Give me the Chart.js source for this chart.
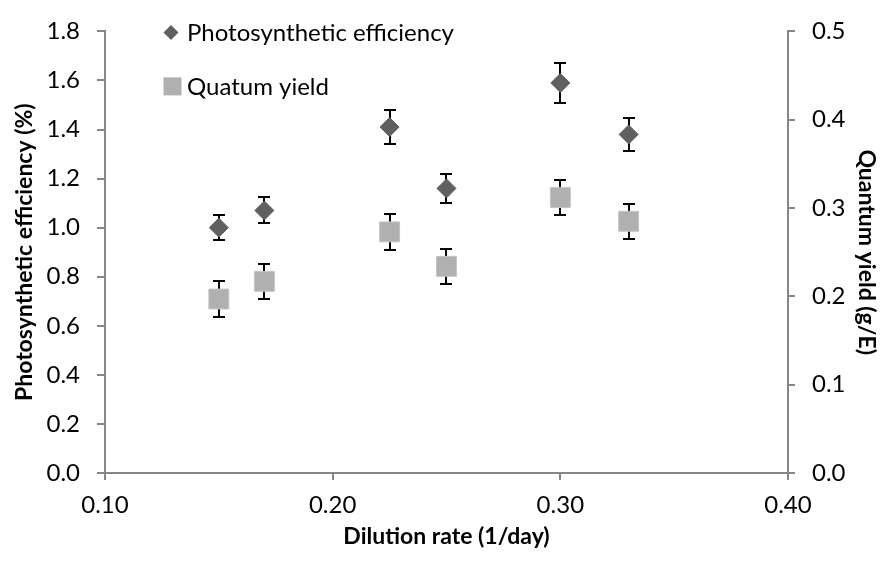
<!DOCTYPE html>
<html><head><meta charset="utf-8">
<script src="https://cdn.jsdelivr.net/npm/chart.js@4.4.1/dist/chart.umd.min.js"></script>
<style>html,body{margin:0;padding:0;background:#fff}#wrap{width:885px;height:562px}</style>
</head><body><div id="wrap"><canvas id="c" width="885" height="562"></canvas></div>
<script>
// ---- data ----
const dilutionRate = [0.15, 0.17, 0.225, 0.25, 0.30, 0.33];
const photoEff = [1.00, 1.07, 1.41, 1.16, 1.59, 1.38];
const photoEffErr = [0.05, 0.053, 0.07, 0.058, 0.08, 0.069];
const quantumYield = [0.197, 0.217, 0.273, 0.234, 0.312, 0.285];
const quantumYieldErr = [0.02, 0.02, 0.02, 0.02, 0.02, 0.02];
const xTicks = [0.10, 0.20, 0.30, 0.40];
const leftTicks = [0, 0.2, 0.4, 0.6, 0.8, 1.0, 1.2, 1.4, 1.6, 1.8];
const rightTicks = [0, 0.1, 0.2, 0.3, 0.4, 0.5];
const seriesNames = ['Photosynthetic efficiency', 'Quatum yield'];
const xTitle = 'Dilution rate (1/day)';
const leftTitle = 'Photosynthetic efficiency (%)';
const rightTitle = 'Quantum yield (g/E)';

const AXIS = '#868686';
const DIAMOND = '#606060';
const SQUARE = '#b0b0b0';
const FS = 24;

function pts(xs, ys) { return xs.map((x, i) => ({x: x, y: ys[i]})); }

const errorBars = {
  id: 'errorBars',
  beforeDatasetsDraw(chart) {
    const ctx = chart.ctx;
    const errs = [photoEffErr, quantumYieldErr];
    chart.data.datasets.forEach((ds, i) => {
      const ys = chart.scales[ds.yAxisID];
      const xs = chart.scales.x;
      ctx.save();
      ctx.strokeStyle = '#000';
      ctx.lineWidth = 2;
      ds.data.forEach((p, j) => {
        const x = Math.round(xs.getPixelForValue(p.x));
        const yt = Math.round(ys.getPixelForValue(p.y + errs[i][j]));
        const yb = Math.round(ys.getPixelForValue(p.y - errs[i][j]));
        ctx.beginPath();
        ctx.moveTo(x, yt); ctx.lineTo(x, yb);
        ctx.moveTo(x - 6, yt); ctx.lineTo(x + 6, yt);
        ctx.moveTo(x - 6, yb); ctx.lineTo(x + 6, yb);
        ctx.stroke();
      });
      ctx.restore();
    });
  }
};

const customLegend = {
  id: 'customLegend',
  afterDraw(chart) {
    const ctx = chart.ctx;
    const a = chart.chartArea;
    ctx.save();
    ctx.font = FS + 'px Lato';
    ctx.textBaseline = 'middle';
    // diamond
    const dx = a.left + 66, dy = a.top + 1;
    ctx.fillStyle = DIAMOND;
    ctx.beginPath();
    ctx.moveTo(dx - 7.5, dy); ctx.lineTo(dx, dy - 7.5); ctx.lineTo(dx + 7.5, dy); ctx.lineTo(dx, dy + 7.5);
    ctx.closePath(); ctx.fill();
    ctx.fillStyle = '#000';
    ctx.fillText(seriesNames[0], a.left + 82, dy + 1);
    // square
    const sx = a.left + 67.5, sy = a.top + 55;
    ctx.fillStyle = SQUARE;
    ctx.fillRect(sx - 9, sy - 9, 18, 18);
    ctx.fillStyle = '#000';
    ctx.fillText(seriesNames[1], a.left + 82, sy + 1);
    ctx.restore();
  }
};

function make() {
  Chart.defaults.font.family = 'Lato';
  Chart.defaults.font.size = FS;
  Chart.defaults.color = '#000';
  new Chart(document.getElementById('c'), {
    type: 'scatter',
    data: {
      datasets: [
        {label: seriesNames[0], data: pts(dilutionRate, photoEff), yAxisID: 'y',
         pointStyle: 'rectRot', pointRadius: 9.5, pointHoverRadius: 9.5,
         backgroundColor: DIAMOND, borderColor: DIAMOND, borderWidth: 1},
        {label: seriesNames[1], data: pts(dilutionRate, quantumYield), yAxisID: 'y2',
         pointStyle: 'rect', pointRadius: 14.1, pointHoverRadius: 14.1,
         backgroundColor: SQUARE, borderColor: '#c4c4c4', borderWidth: 1}
      ]
    },
    options: {
      responsive: false, animation: false, devicePixelRatio: 1,
      layout: {padding: {top: 21, left: 0, right: 0, bottom: 0}},
      plugins: {legend: {display: false}, tooltip: {enabled: false}},
      scales: {
        x: {
          type: 'linear', min: 0.1, max: 0.4,
          afterBuildTicks: s => { s.ticks = xTicks.map(v => ({value: v})); },
          afterFit: s => { s.height = 89; },
          ticks: {padding: 11, callback: v => v.toFixed(2)},
          grid: {drawOnChartArea: false, drawTicks: true, tickLength: 7, color: AXIS, lineWidth: 2},
          border: {color: AXIS, width: 2},
          title: {display: true, text: xTitle, font: {weight: 'bold', size: 23}, padding: {top: 0, bottom: 12}}
        },
        y: {
          position: 'left', min: 0, max: 1.8,
          afterBuildTicks: s => { s.ticks = leftTicks.map(v => ({value: v})); },
          afterFit: s => { s.width = 105; },
          ticks: {padding: 17, callback: v => v.toFixed(1)},
          grid: {drawOnChartArea: false, drawTicks: true, tickLength: 8, color: AXIS, lineWidth: 2},
          border: {color: AXIS, width: 2},
          title: {display: true, text: leftTitle, font: {weight: 'bold', size: 23}, padding: {top: 11, bottom: 0}}
        },
        y2: {
          position: 'right', min: 0, max: 0.5,
          afterBuildTicks: s => { s.ticks = rightTicks.map(v => ({value: v})); },
          afterFit: s => { s.width = 97; },
          ticks: {padding: 17, callback: v => v.toFixed(1)},
          grid: {drawOnChartArea: false, drawTicks: true, tickLength: 7, color: AXIS, lineWidth: 2},
          border: {color: AXIS, width: 2},
          title: {display: true, text: rightTitle, font: {weight: 'bold', size: 23}, padding: {top: 5, bottom: 0}}
        }
      }
    },
    plugins: [errorBars, customLegend]
  });
}
if (document.fonts && document.fonts.load) {
  Promise.all([document.fonts.load(FS + 'px Lato'), document.fonts.load('bold 23px Lato')]).then(make, make);
} else { make(); }
</script>
</body></html>
